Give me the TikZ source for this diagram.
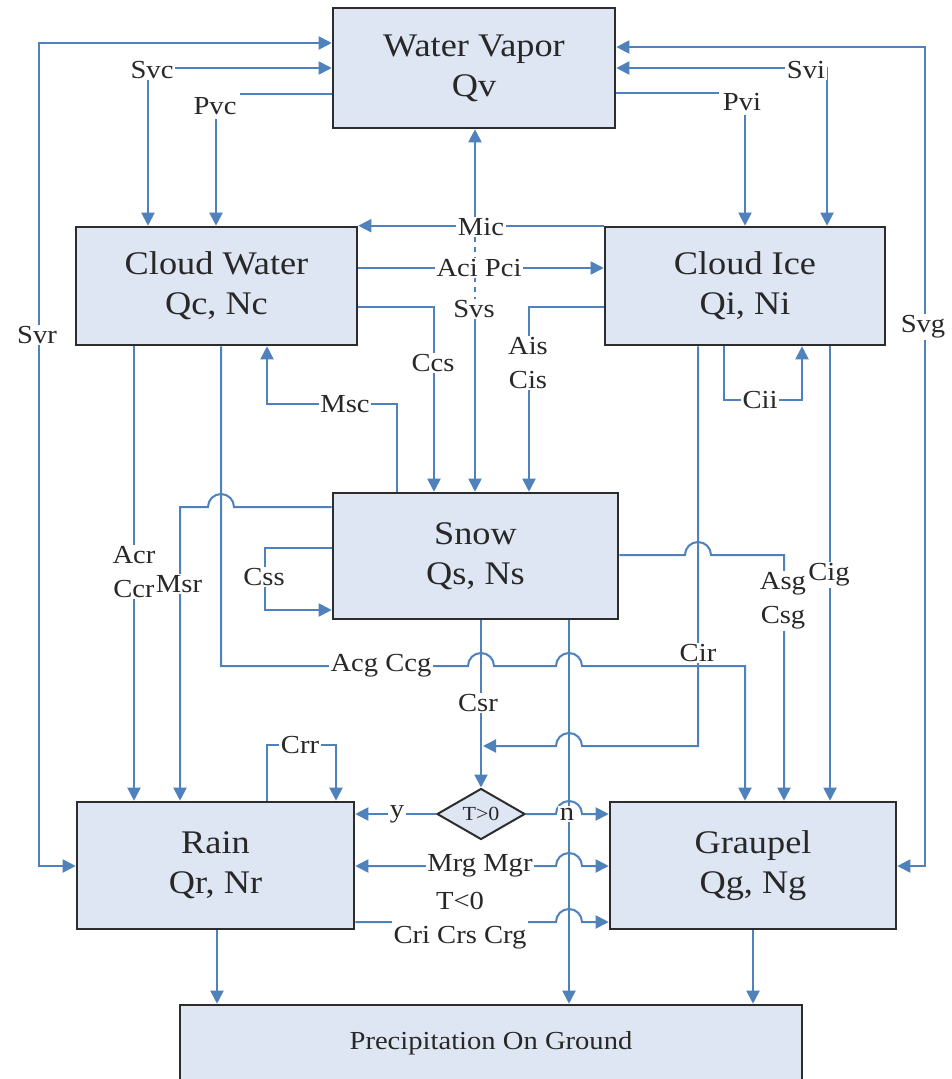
\documentclass[tikz,border=0pt]{standalone}
\usepackage{fontspec}
\setmainfont{Liberation Serif}[FakeStretch=1.1]
\usetikzlibrary{arrows.meta,shapes.geometric,calc}
\definecolor{lblue}{RGB}{79,129,189}
\definecolor{boxfill}{RGB}{222,230,243}
\definecolor{boxline}{RGB}{45,45,45}
\definecolor{txt}{RGB}{40,40,40}
\begin{document}
\begin{tikzpicture}[x=1pt,y=-1pt,
  box/.style={draw=boxline, line width=2.6pt, fill=boxfill, rectangle, align=center, inner sep=0pt, text=txt, font=\fontsize{33}{40}\selectfont},
  flow/.style={draw=lblue, line width=2pt},
  tip/.style={-{Triangle[length=13pt,width=13pt]}},
  tips/.style={{Triangle[length=13pt,width=13pt]}-{Triangle[length=13pt,width=13pt]}},
  lbl/.style={fill=white, inner sep=1.5pt, text=txt, font=\fontsize{26}{34}\selectfont, align=center},
]
\clip (0,0) rectangle (951,1079);
\fill[white] (0,0) rectangle (951,1079);

% boxes
\node[box, minimum width=282pt, minimum height=120pt] (WV) at (474,68) {Water Vapor\\Qv};
\node[box, minimum width=281pt, minimum height=118pt] (CW) at (216.5,286) {Cloud Water\\Qc, Nc};
\node[box, minimum width=280pt, minimum height=118pt] (CI) at (745,286) {Cloud Ice\\Qi, Ni};
\node[box, minimum width=285pt, minimum height=126pt] (Snow) at (475.5,556) {Snow\\Qs, Ns};
\node[box, minimum width=277pt, minimum height=127pt] (Rain) at (215.5,865.5) {Rain\\Qr, Nr};
\node[box, minimum width=286pt, minimum height=127pt] (Gr) at (753,865.5) {Graupel\\Qg, Ng};
\node[box, minimum width=622pt, minimum height=77pt, font=\fontsize{26}{28}\selectfont] (PG) at (491,1043.5) {Precipitation On Ground};
\node[diamond, draw=boxline, line width=2pt, fill=boxfill, minimum width=88pt, minimum height=51pt, inner sep=0pt, text=txt, font=\fontsize{20}{20}\selectfont] (D) at (481,814) {T>0};

% vapor connections
\draw[flow,tips] (WV.west |- 0,43) -- (39,43) -- (39,866) -- (Rain.west |- 0,866);
\draw[flow,tips] (WV.west |- 0,68) -- (148,68) -- (148,0 |- CW.north);
\draw[flow,tip] (WV.west |- 0,94) -- (216,94) -- (216,0 |- CW.north);
\draw[flow,tips] (WV.east |- 0,47) -- (925,47) -- (925,866) -- (Gr.east |- 0,866);
\draw[flow,tips] (WV.east |- 0,68) -- (827,68) -- (827,0 |- CI.north);
\draw[flow,tip] (WV.east |- 0,93) -- (745,93) -- (745,0 |- CI.north);

% Mic / Svs
\draw[flow,tip] (CI.north west) -- (CW.north east);
\coordinate (mj) at (475,227);
\coordinate (sv) at (475,300);
\draw[flow,tip] (mj) -- (mj |- WV.south);
\draw[lblue, line width=1.2pt, dash pattern=on 5pt off 5pt] (mj) -- (sv);
\draw[flow,tip] (sv) -- (sv |- Snow.north);

% cloud water / cloud ice
\draw[flow,tip] (CW.east |- 0,268) -- (CI.west |- 0,268);
\draw[flow,tip] (CW.east |- 0,307) -- (434,307) -- (434,0 |- Snow.north);
\draw[flow,tip] (CI.west |- 0,307) -- (529,307) -- (529,0 |- Snow.north);
\draw[flow,tip] (397,0 |- Snow.north) -- (397,404) -- (267,404) -- (267,0 |- CW.south);
\draw[flow,tip] (724,0 |- CI.south) -- (724,400) -- (802,400) -- (802,0 |- CI.south);
\draw[flow,tip] (134,0 |- CW.south) -- (134,0 |- Rain.north);

% snow
\draw[flow,tip] (Snow.west |- 0,507) -- (234,507) arc[start angle=0,end angle=180,radius=13pt] -- (180,507) -- (180,0 |- Rain.north);
\draw[flow,tip] (Snow.west |- 0,548) -- (265,548) -- (265,610) -- (Snow.west |- 0,610);
\draw[flow,tip] (221,0 |- CW.south) -- (221,666) -- (468,666) arc[start angle=180,end angle=0,radius=13pt] -- (556,666) arc[start angle=180,end angle=0,radius=13pt] -- (745,666) -- (745,0 |- Gr.north);
\draw[flow,tip] (698,0 |- CI.south) -- (698,746) -- (582,746) arc[start angle=0,end angle=180,radius=13pt] -- (483,746);
\draw[flow,tip] (Snow.east |- 0,555) -- (685,555) arc[start angle=180,end angle=0,radius=13pt] -- (784,555) -- (784,0 |- Gr.north);
\draw[flow,tip] (830,0 |- CI.south) -- (830,0 |- Gr.north);
\draw[flow,tip] (481,0 |- Snow.south) -- (D.north);

% decision and rain/graupel
\draw[flow,tip] (D.west) -- (Rain.east |- D.west);
\draw[flow,tip] (D.east) -- (556,814) arc[start angle=180,end angle=0,radius=13pt] -- (Gr.west |- D.east);
\draw[flow,tips] (Rain.east |- 0,866) -- (556,866) arc[start angle=180,end angle=0,radius=13pt] -- (Gr.west |- 0,866);
\draw[flow,tip] (Rain.east |- 0,922) -- (556,922) arc[start angle=180,end angle=0,radius=13pt] -- (Gr.west |- 0,922);
\draw[flow,tip] (267,0 |- Rain.north) -- (267,745) -- (336,745) -- (336,0 |- Rain.north);

% to ground
\draw[flow,tip] (569,0 |- Snow.south) -- (569,0 |- PG.north);
\draw[flow,tip] (217,0 |- Rain.south) -- (217,0 |- PG.north);
\draw[flow,tip] (753,0 |- Gr.south) -- (753,0 |- PG.north);

% labels
\node[lbl] (lSvr) at (37,335) {Svr};
\node[lbl] (lSvc) at (152,70) {Svc};
\node[lbl, inner sep=4pt] (lPvc) at (215,106) {Pvc};
\node[lbl] (lSvg) at (923,327) {Svg};
\node[lbl] (lSvi) at (806,70) {Svi};
\node[lbl, inner sep=4pt] (lPvi) at (742,102) {Pvi};
\node[lbl] (lMic) at (481,227) {Mic};
\node[lbl] (lAci) at (479,268) {Aci Pci};
\node[lbl] (lSvs) at (474,309) {Svs};
\node[lbl] (lCcs) at (433,363) {Ccs};
\node[lbl] (lAis) at (528,363) {Ais\\Cis};
\node[lbl] (lMsc) at (345,404) {Msc};
\node[lbl] (lCii) at (760,400) {Cii};
\node[lbl] (lAcr) at (134,572) {Acr\\Ccr};
\node[lbl] (lMsr) at (179,584) {Msr};
\node[lbl] (lCss) at (264,577) {Css};
\node[lbl] (lAcg) at (381,666) {Acg Ccg};
\node[lbl] (lCsr) at (478,703) {Csr};
\node[lbl] (lCir) at (698,653) {Cir};
\node[lbl] (lAsg) at (783,601) {Asg\\Csg};
\node[lbl] (lCig) at (829,575) {Cig};
\node[lbl] (lCrr) at (300,745) {Crr};
\node[lbl] (ly) at (397,814) {y};
\node[lbl] (ln) at (567,814) {n};
\node[lbl] (lMrg) at (480,866) {Mrg Mgr};
\node[lbl] (lT) at (460,921) {T<0\\Cri Crs Crg};
\end{tikzpicture}
\end{document}
